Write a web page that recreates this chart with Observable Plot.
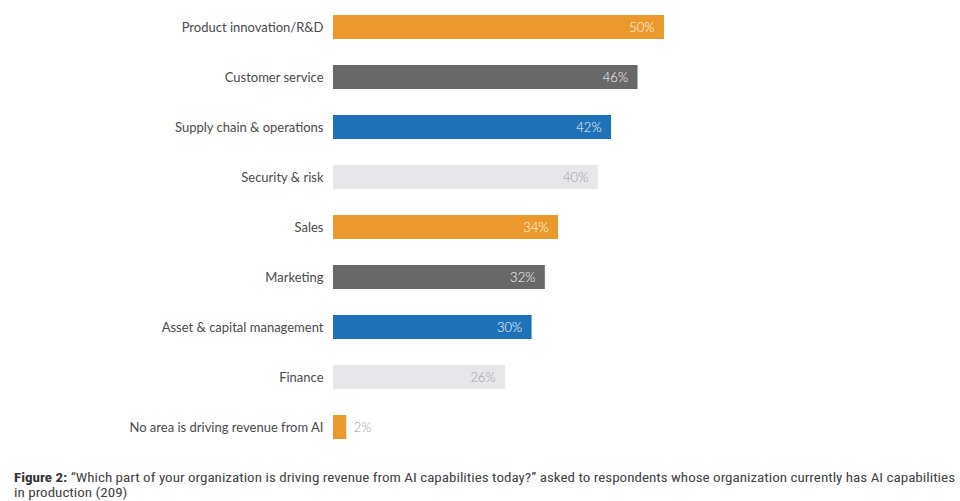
<!DOCTYPE html>
<html>
<head>
<meta charset="utf-8">
<script src="https://cdn.jsdelivr.net/npm/d3@7"></script>
<script src="https://cdn.jsdelivr.net/npm/@observablehq/plot@0.6"></script>
<style>
  html, body { margin: 0; padding: 0; background: #fff; }
  #chart { width: 960px; height: 454px; }
  #caption { position: relative; width: 960px; height: 47px; font-family: "Liberation Sans Narrow", "Roboto Condensed", "Liberation Sans", sans-serif; font-size: 12.5px; color: #444; }
  #caption .line { position: absolute; left: 14px; white-space: nowrap; transform-origin: 0 0; }
  #caption b { font-weight: bold; color: #333; }
</style>
</head>
<body>
<div id="chart"></div>
<div id="caption">
  <div class="line" id="l1" style="top:16px"><b>Figure 2:</b> “Which part of your organization is driving revenue from AI capabilities today?” asked to respondents whose organization currently has AI capabilities</div>
  <div class="line" id="l2" style="top:31px">in production (209)</div>
</div>
<script>
const categories = [
  "Product innovation/R&D",
  "Customer service",
  "Supply chain & operations",
  "Security & risk",
  "Sales",
  "Marketing",
  "Asset & capital management",
  "Finance",
  "No area is driving revenue from AI"
];
const values = [50, 46, 42, 40, 34, 32, 30, 26, 2];
const colors = ["#EB992C", "#686868", "#1F72B8", "#E7E7EB", "#EB992C", "#686868", "#1F72B8", "#E7E7EB", "#EB992C"];
const labelColors = ["#ffffff", "#ffffff", "#ffffff", "#9a9a9a", "#ffffff", "#ffffff", "#ffffff", "#9a9a9a", "#9a9a9a"];

const data = categories.map((c, i) => ({category: c, value: values[i], color: colors[i], labelColor: labelColors[i], label: values[i] + "%"}));
const inside = data.filter(d => d.value > 5);
const outside = data.filter(d => d.value <= 5);

const chart = Plot.plot({
  width: 960,
  height: 454,
  marginLeft: 333,
  marginRight: 296,
  marginTop: 0,
  marginBottom: 0,
  style: {fontFamily: "Lato, 'Open Sans', sans-serif", fontSize: "13px", color: "#4a4a4a", background: "#fff"},
  x: {domain: [0, 50], axis: null},
  y: {domain: categories, paddingInner: 0.52, paddingOuter: 0.26, label: null},
  marks: [
    Plot.axisY({tickSize: 0, tickPadding: 10, fontSize: 13, fill: "#4a4a4a", label: null}),
    Plot.barX(data, {y: "category", x: "value", fill: d => d.color}),
    Plot.ruleX([0], {stroke: "#dcdcdc", strokeWidth: 1, y1: categories[0], y2: categories[categories.length-1], insetTop: -26, insetBottom: -22}),
    Plot.text(inside, {y: "category", x: "value", text: "label", textAnchor: "end", dx: -10, fill: d => d.labelColor, fontSize: 13, fontWeight: 300}),
    Plot.text(outside, {y: "category", x: "value", text: "label", textAnchor: "start", dx: 7, fill: d => d.labelColor, fontSize: 13, fontWeight: 300})
  ]
});
document.getElementById("chart").appendChild(chart);

// fit caption line 1 to the reference width
const l1 = document.getElementById("l1");
const w = l1.getBoundingClientRect().width;
const s = 941 / w;
l1.style.transform = `scaleX(${s})`;
document.getElementById("l2").style.transform = `scaleX(${s})`;
</script>
</body>
</html>
